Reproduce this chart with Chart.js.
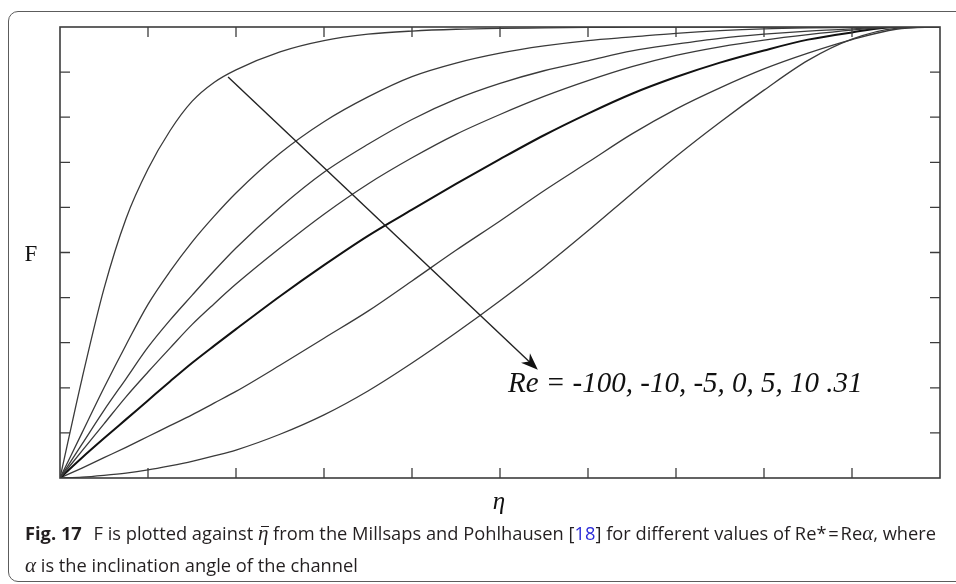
<!DOCTYPE html>
<html>
<head>
<meta charset="utf-8">
<script src="https://cdn.jsdelivr.net/npm/chart.js@4.4.0/dist/chart.umd.min.js"></script>
<style>
  html, body { margin: 0; padding: 0; background: #fff; overflow: hidden; }
  body { width: 956px; height: 584px; position: relative; }
  #panel {
    position: absolute; left: 8px; top: 11px; width: 980px; height: 571px;
    border: 1.5px solid #5c5c5c; border-radius: 10px; box-sizing: border-box;
  }
  #chart { position: absolute; left: 0; top: 0; }
  #caption {
    position: absolute; left: 25px; top: 517px;
    font-family: "Open Sans", sans-serif; font-size: 18.3px; line-height: 31px;
    color: #231f20; white-space: nowrap;
  }
  #caption b { font-weight: 700; margin-right: 7px; }
  .ov { position: relative; font-family: "Liberation Serif", serif; font-style: italic; font-size: 21px; }
  .ov::after { content: ''; position: absolute; left: 3px; right: -1px; top: 5px; border-top: 1.2px solid #231f20; }
  .gr { font-family: "Liberation Serif", serif; font-style: italic; font-size: 21px; }
  .ref { color: #2b2bd9; }
</style>
</head>
<body>
<div id="panel"></div>
<canvas id="chart" width="956" height="584"></canvas>
<div id="caption">
  <div><b>Fig. 17</b> F is plotted against <span class="ov">η</span> from the Millsaps and Pohlhausen [<span class="ref">18</span>] for different values of Re*&#8202;=&#8202;Re<span class="gr">α</span>, where</div>
  <div><span class="gr">α</span> is the inclination angle of the channel</div>
</div>
<script>
// sample positions across the channel
const eta = [0, 0.025, 0.05, 0.075, 0.1, 0.125, 0.15, 0.175, 0.2, 0.25, 0.3, 0.35, 0.4, 0.45,
             0.5, 0.55, 0.6, 0.65, 0.7, 0.75, 0.8, 0.85, 0.9, 0.95, 1];

// F profiles, one per Reynolds number
const fReM100 = [0, 0.22, 0.42, 0.575, 0.685, 0.77, 0.835, 0.877, 0.905, 0.945, 0.97, 0.984, 0.991, 0.995,
                 0.997, 0.998, 0.999, 1, 1, 1, 1, 1, 1, 1, 1];
const fReM10  = [0, 0.1, 0.2, 0.295, 0.385, 0.458, 0.523, 0.58, 0.632, 0.72, 0.79, 0.845, 0.89, 0.92,
                 0.942, 0.958, 0.97, 0.978, 0.986, 0.992, 0.996, 0.998, 0.999, 1, 1];
const fReM5   = [0, 0.075, 0.15, 0.22, 0.29, 0.35, 0.405, 0.459, 0.51, 0.6, 0.678, 0.74, 0.795, 0.84,
                 0.875, 0.903, 0.925, 0.947, 0.962, 0.975, 0.984, 0.991, 0.996, 1, 1];
const fRe0    = [0, 0.06, 0.12, 0.18, 0.235, 0.288, 0.34, 0.386, 0.43, 0.51, 0.585, 0.652, 0.71, 0.762,
                 0.806, 0.846, 0.881, 0.912, 0.937, 0.956, 0.971, 0.983, 0.993, 1, 1];
const fRe5    = [0, 0.045, 0.088, 0.13, 0.172, 0.214, 0.255, 0.293, 0.33, 0.403, 0.472, 0.537, 0.595, 0.652,
                 0.707, 0.76, 0.808, 0.852, 0.889, 0.921, 0.948, 0.972, 0.988, 1, 1];
const fRe10   = [0, 0.022, 0.045, 0.068, 0.092, 0.116, 0.14, 0.166, 0.192, 0.25, 0.31, 0.37, 0.437, 0.505,
                 0.57, 0.637, 0.7, 0.763, 0.818, 0.865, 0.907, 0.942, 0.972, 0.995, 1];
const fRe31   = [0, 0.002, 0.006, 0.011, 0.018, 0.027, 0.037, 0.049, 0.062, 0.097, 0.14, 0.193, 0.255, 0.322,
                 0.393, 0.468, 0.548, 0.631, 0.713, 0.789, 0.86, 0.926, 0.973, 0.997, 1];

const reValues = ['-100', '-10', '-5', '0', '5', '10', '31'];
const profiles = [fReM100, fReM10, fReM5, fRe0, fRe5, fRe10, fRe31];
const tickSteps = [0.1, 0.2, 0.3, 0.4, 0.5, 0.6, 0.7, 0.8, 0.9];

// arrow across the family of curves, in data units
const arrowFrom = { x: 0.191, y: 0.889 };
const arrowTo = { x: 0.543, y: 0.24 };
const reLabel = 'Re = -100, -10, -5, 0, 5, 10 .31';
const reLabelAt = { x: 0.509, y: 0.19 };

const datasets = profiles.map((f, i) => ({
  label: 'Re = ' + reValues[i],
  data: eta.map((e, j) => ({ x: e, y: f[j] })),
  showLine: true,
  borderColor: i === 4 ? '#111' : '#3a3a3a',
  borderWidth: i === 4 ? 2 : 1.3,
  pointRadius: 0,
  cubicInterpolationMode: 'monotone',
  fill: false
}));

const figureDecor = {
  id: 'figureDecor',
  afterDraw(chart) {
    const { ctx, chartArea: a, scales: { x, y } } = chart;
    ctx.save();

    // axis box
    ctx.strokeStyle = '#3c3c3c';
    ctx.lineWidth = 1.6;
    ctx.strokeRect(a.left, a.top, a.right - a.left, a.bottom - a.top);

    // ticks point inward on all four sides
    ctx.lineWidth = 1.3;
    ctx.beginPath();
    tickSteps.forEach(v => {
      const px = x.getPixelForValue(v), py = y.getPixelForValue(v);
      ctx.moveTo(px, a.bottom); ctx.lineTo(px, a.bottom - 10);
      ctx.moveTo(px, a.top); ctx.lineTo(px, a.top + 10);
      ctx.moveTo(a.left, py); ctx.lineTo(a.left + 10, py);
      ctx.moveTo(a.right, py); ctx.lineTo(a.right - 10, py);
    });
    ctx.stroke();

    // arrow
    const x0 = x.getPixelForValue(arrowFrom.x), y0 = y.getPixelForValue(arrowFrom.y);
    const x1 = x.getPixelForValue(arrowTo.x), y1 = y.getPixelForValue(arrowTo.y);
    const ang = Math.atan2(y1 - y0, x1 - x0);
    ctx.strokeStyle = '#222';
    ctx.lineWidth = 1.4;
    ctx.beginPath();
    ctx.moveTo(x0, y0);
    ctx.lineTo(x1 - 8 * Math.cos(ang), y1 - 8 * Math.sin(ang));
    ctx.stroke();
    ctx.fillStyle = '#111';
    ctx.translate(x1, y1);
    ctx.rotate(ang);
    ctx.beginPath();
    ctx.moveTo(0, 0);
    ctx.lineTo(-17, -6.5);
    ctx.lineTo(-12, 0);
    ctx.lineTo(-17, 6.5);
    ctx.closePath();
    ctx.fill();
    ctx.setTransform(1, 0, 0, 1, 0, 0);

    // labels
    ctx.fillStyle = '#111';
    ctx.textBaseline = 'alphabetic';
    ctx.font = 'italic 29px "Liberation Serif"';
    ctx.fillText(reLabel, x.getPixelForValue(reLabelAt.x), y.getPixelForValue(reLabelAt.y));

    ctx.font = '23px "Liberation Serif"';
    ctx.textAlign = 'center';
    ctx.fillText('F', 31, (a.top + a.bottom) / 2 + 8);
    ctx.font = 'italic 25px "Liberation Serif"';
    ctx.fillText('η', (a.left + a.right) / 2 - 1, a.bottom + 31);
    ctx.restore();
  }
};

new Chart(document.getElementById('chart'), {
  type: 'scatter',
  data: { datasets },
  options: {
    responsive: false,
    animation: false,
    layout: { padding: { left: 60, right: 16, top: 27, bottom: 106 } },
    plugins: { legend: { display: false }, tooltip: { enabled: false } },
    scales: {
      x: { type: 'linear', min: 0, max: 1, display: false },
      y: { type: 'linear', min: 0, max: 1, display: false }
    }
  },
  plugins: [figureDecor]
});
</script>
</body>
</html>
